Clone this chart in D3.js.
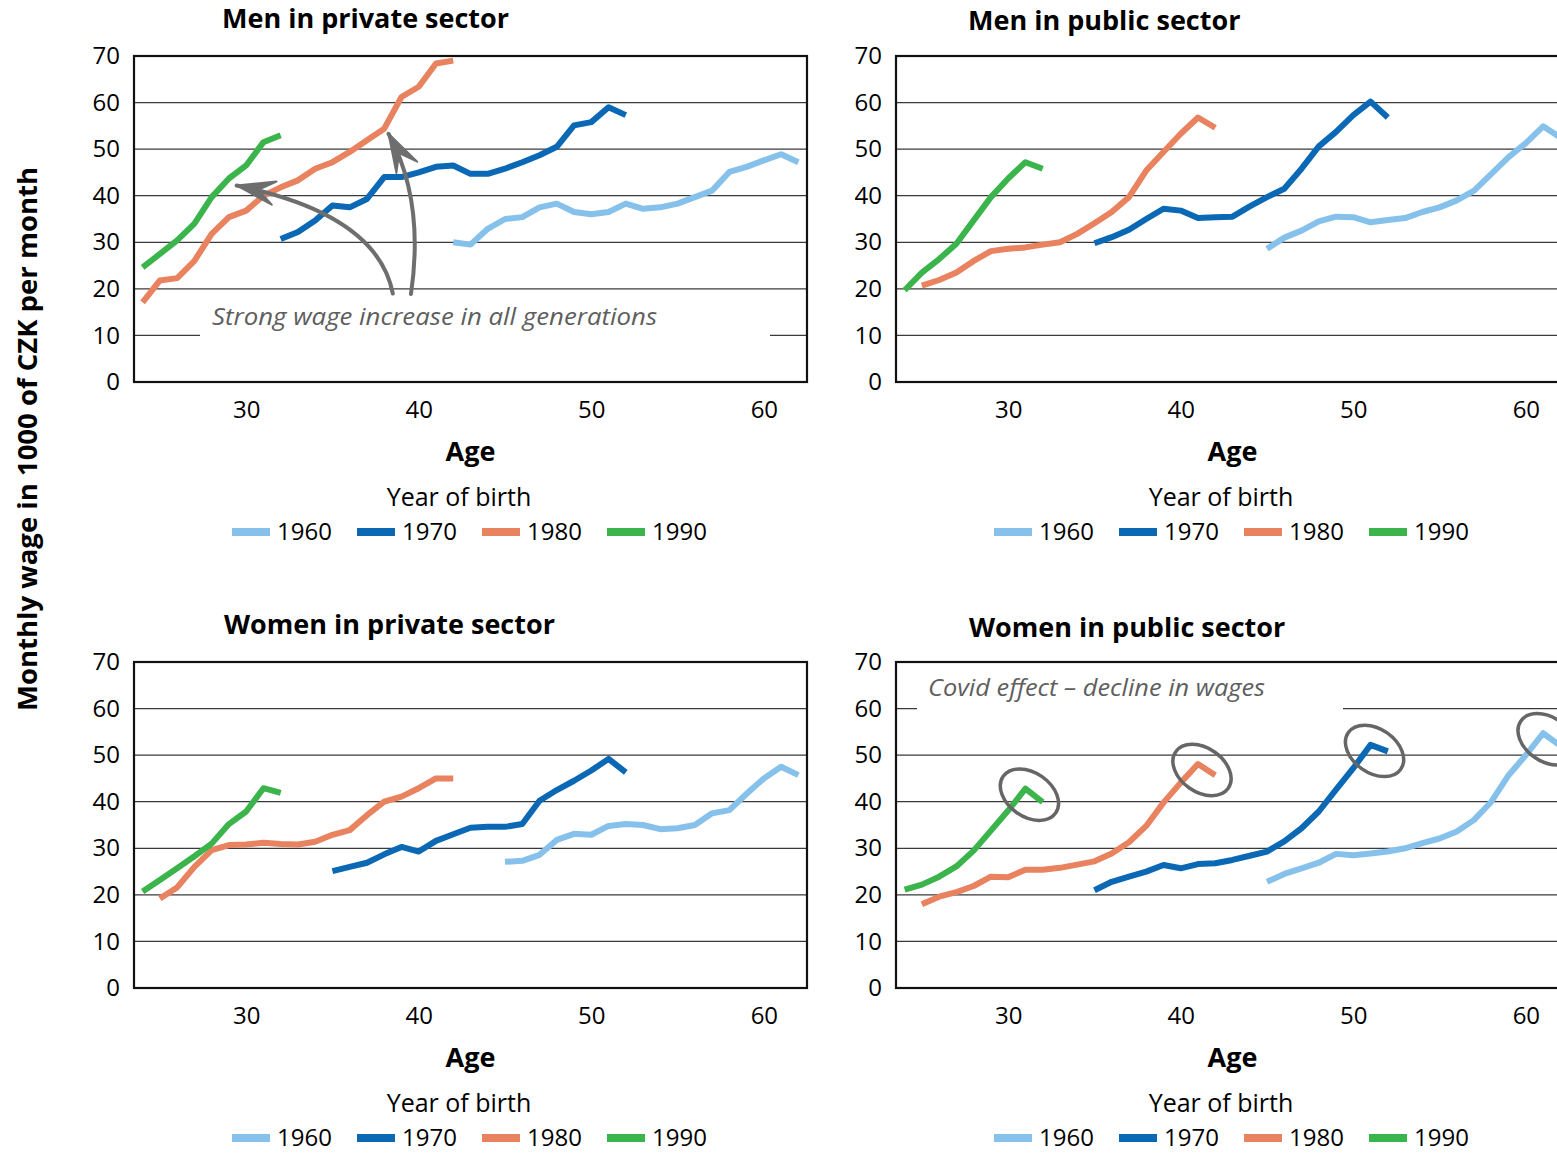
<!DOCTYPE html>
<html>
<head>
<meta charset="utf-8">
<script src="https://cdn.jsdelivr.net/npm/d3@7"></script>
<style>
  body { margin: 0; overflow: hidden; background: #fff; }
  svg { display: block; }
</style>
</head>
<body>
<script>
// ages on the x axis and their tick labels
var ageFirst = 24, ageLast = 62;
var ageTicks = [30, 40, 50, 60];
var wageTicks = [0, 10, 20, 30, 40, 50, 60, 70];
var cohorts = ["1960", "1970", "1980", "1990"];
var cohortColors = ["#85c1ea", "#0a68b4", "#e8825f", "#3cb44c"];

// monthly wage (thousand CZK), each series starts at the given age
var menPrivStart = { "1960": 42, "1970": 32, "1980": 24, "1990": 24 };
var menPriv1960 = [30, 29.5, 32.9, 35, 35.4, 37.5, 38.3, 36.5, 36, 36.5, 38.3, 37.2, 37.5, 38.3, 39.7, 41.1, 45.1, 46.2, 47.6, 48.9, 47.2];
var menPriv1970 = [30.7, 32.2, 34.7, 37.9, 37.5, 39.3, 44, 44, 45, 46.2, 46.5, 44.7, 44.7, 45.8, 47.2, 48.7, 50.5, 55.1, 55.8, 59, 57.3];
var menPriv1980 = [17.1, 21.8, 22.3, 26, 31.8, 35.4, 36.8, 40, 41.8, 43.3, 45.8, 47.2, 49.4, 51.9, 54.4, 61.2, 63.4, 68.4, 69];
var menPriv1990 = [24.6, 27.5, 30.4, 34, 39.7, 43.7, 46.5, 51.5, 53];

var menPubStart = { "1960": 45, "1970": 35, "1980": 25, "1990": 24 };
var menPub1960 = [28.6, 31, 32.5, 34.5, 35.5, 35.4, 34.3, 34.8, 35.2, 36.5, 37.5, 39, 41.1, 44.7, 48.3, 51.3, 54.9, 52.5];
var menPub1970 = [29.8, 31.1, 32.7, 35, 37.2, 36.8, 35.2, 35.4, 35.5, 37.7, 39.7, 41.5, 45.8, 50.6, 53.7, 57.3, 60.2, 56.8];
var menPub1980 = [20.7, 21.9, 23.5, 26, 28.1, 28.6, 28.9, 29.5, 30, 31.8, 34.1, 36.5, 39.7, 45.4, 49.4, 53.3, 56.8, 54.6];
var menPub1990 = [19.7, 23.5, 26.4, 29.7, 34.7, 39.7, 43.7, 47.2, 45.8];

var womenPrivStart = { "1960": 45, "1970": 35, "1980": 25, "1990": 24 };
var womenPriv1960 = [27.1, 27.3, 28.6, 31.8, 33.1, 32.9, 34.8, 35.2, 35, 34.1, 34.3, 35, 37.5, 38.2, 41.7, 45, 47.5, 45.7];
var womenPriv1970 = [25.1, 26, 26.9, 28.7, 30.3, 29.3, 31.6, 33, 34.4, 34.6, 34.6, 35.2, 40.2, 42.5, 44.5, 46.7, 49.2, 46.3];
var womenPriv1980 = [19.2, 21.6, 26, 29.6, 30.7, 30.8, 31.2, 30.9, 30.8, 31.4, 32.9, 33.9, 37.1, 40, 41.1, 42.9, 45, 45];
var womenPriv1990 = [20.7, 23.2, 25.7, 28.3, 31, 35.2, 37.9, 42.9, 41.9];

var womenPubStart = { "1960": 45, "1970": 35, "1980": 25, "1990": 24 };
var womenPub1960 = [22.8, 24.5, 25.7, 26.9, 28.8, 28.5, 28.9, 29.3, 30, 31.1, 32.1, 33.6, 36.1, 40, 45.7, 50, 54.7, 52];
var womenPub1970 = [21, 22.8, 23.9, 25, 26.4, 25.7, 26.6, 26.8, 27.5, 28.4, 29.3, 31.5, 34.3, 37.9, 42.6, 47.2, 52.2, 50.8];
var womenPub1980 = [18, 19.6, 20.6, 21.9, 23.9, 23.8, 25.4, 25.4, 25.8, 26.5, 27.2, 28.9, 31.3, 34.8, 39.8, 44.1, 48.1, 45.7];
var womenPub1990 = [21.1, 22.2, 23.9, 26.1, 29.5, 33.8, 38.1, 42.8, 39.9];

var panelTitles = ["Men in private sector", "Men in public sector", "Women in private sector", "Women in public sector"];

var W = 1557, H = 1153;
var plotW = 673, plotH = 326;
var font = "'Open Sans', sans-serif";

var panels = [
  { title: panelTitles[0], left: 134, top: 56, titleX: 88, titleY: -28, start: menPrivStart,
    series: [menPriv1960, menPriv1970, menPriv1980, menPriv1990] },
  { title: panelTitles[1], left: 896, top: 56, titleX: 72, titleY: -26, start: menPubStart,
    series: [menPub1960, menPub1970, menPub1980, menPub1990] },
  { title: panelTitles[2], left: 134, top: 662, titleX: 90, titleY: -28, start: womenPrivStart,
    series: [womenPriv1960, womenPriv1970, womenPriv1980, womenPriv1990] },
  { title: panelTitles[3], left: 896, top: 662, titleX: 73, titleY: -25, start: womenPubStart,
    series: [womenPub1960, womenPub1970, womenPub1980, womenPub1990] }
];

var svg = d3.select("body").append("svg")
  .attr("width", W).attr("height", H);

var x = d3.scaleLinear().domain([ageFirst - 0.5, ageLast + 0.5]).range([0, plotW]);
var y = d3.scaleLinear().domain([0, 70]).range([plotH, 0]);

var line = d3.line()
  .x(function(d) { return x(d.age); })
  .y(function(d) { return y(d.v); });

function toPoints(arr, start) {
  return arr.map(function(v, i) { return { age: start + i, v: v }; });
}

panels.forEach(function(p, pi) {
  var g = svg.append("g").attr("transform", "translate(" + p.left + "," + p.top + ")");

  // title
  g.append("text")
    .attr("x", p.titleX).attr("y", p.titleY)
    .attr("font-family", font).attr("font-weight", "bold").attr("font-size", 27)
    .text(p.title);

  // gridlines
  g.selectAll(".grid").data(wageTicks.slice(1, -1)).enter().append("line")
    .attr("x1", 0).attr("x2", plotW)
    .attr("y1", function(d) { return y(d); }).attr("y2", function(d) { return y(d); })
    .attr("stroke", "#3a3a3a").attr("stroke-width", 1.3);

  // y axis labels
  var yAxis = d3.axisLeft(y).tickValues(wageTicks).tickSize(0).tickPadding(14);
  var ya = g.append("g").call(yAxis);
  ya.select(".domain").remove();
  ya.selectAll("text").attr("font-family", font).attr("font-size", 24).attr("fill", "#000");

  // x axis labels
  var xAxis = d3.axisBottom(x).tickValues(ageTicks).tickSize(0).tickPadding(19);
  var xa = g.append("g").attr("transform", "translate(0," + plotH + ")").call(xAxis);
  xa.select(".domain").remove();
  xa.selectAll("text").attr("font-family", font).attr("font-size", 24).attr("fill", "#000");

  g.append("text")
    .attr("x", plotW / 2).attr("y", plotH + 79)
    .attr("text-anchor", "middle")
    .attr("font-family", font).attr("font-weight", "bold").attr("font-size", 27)
    .text("Age");

  // annotation boxes (white behind the handwritten notes)
  if (pi === 0) {
    g.append("rect").attr("x", 66).attr("y", y(17)).attr("width", 570).attr("height", y(8) - y(17))
      .attr("fill", "#fff");
    g.append("text")
      .attr("x", 78).attr("y", y(12.2))
      .attr("font-family", font).attr("font-style", "italic").attr("font-size", 24)
      .attr("fill", "#5e5e5e").attr("textLength", 445).attr("lengthAdjust", "spacingAndGlyphs")
      .text("Strong wage increase in all generations");
  }
  if (pi === 3) {
    g.append("rect").attr("x", 21).attr("y", y(68)).attr("width", 426).attr("height", y(59) - y(68))
      .attr("fill", "#fff");
    g.append("text")
      .attr("x", 32).attr("y", y(62.8))
      .attr("font-family", font).attr("font-style", "italic").attr("font-size", 24)
      .attr("fill", "#5e5e5e").attr("textLength", 337).attr("lengthAdjust", "spacingAndGlyphs")
      .text("Covid effect \u2013 decline in wages");
  }

  // series lines
  p.series.forEach(function(arr, si) {
    g.append("path")
      .datum(toPoints(arr, p.start[cohorts[si]]))
      .attr("d", line)
      .attr("fill", "none")
      .attr("stroke", cohortColors[si])
      .attr("stroke-width", 6)
      .attr("stroke-linejoin", "round");
  });

  // plot border
  g.append("rect").attr("x", 0).attr("y", 0).attr("width", plotW).attr("height", plotH)
    .attr("fill", "none").attr("stroke", "#111").attr("stroke-width", 2.2);

  // legend
  g.append("text")
    .attr("x", 325).attr("y", plotH + 124)
    .attr("text-anchor", "middle")
    .attr("font-family", font).attr("font-size", 25)
    .text("Year of birth");

  var leg = g.append("g").attr("transform", "translate(98," + (plotH + 150) + ")");
  cohorts.forEach(function(c, i) {
    var li = leg.append("g").attr("transform", "translate(" + (i * 125) + ",0)");
    li.append("rect").attr("x", 0).attr("y", -4).attr("width", 38).attr("height", 8)
      .attr("fill", cohortColors[i]);
    li.append("text").attr("x", 45).attr("y", 0).attr("dy", "0.35em")
      .attr("font-family", font).attr("font-size", 24)
      .text(c);
  });

  // hand-drawn arrows in the first panel
  if (pi === 0) {
    var arrows = [
      { from: [38.5, 19], ctrl: [37.6, 36], to: [29.45, 42.2] },
      { from: [39.55, 18.9], ctrl: [40.35, 39], to: [38.25, 53.3] }
    ];
    arrows.forEach(function(a) {
      var p0 = [x(a.from[0]), y(a.from[1])], c = [x(a.ctrl[0]), y(a.ctrl[1])], t = [x(a.to[0]), y(a.to[1])];
      g.append("path")
        .attr("d", "M" + p0 + "Q" + c + " " + t)
        .attr("fill", "none").attr("stroke", "#6e6e6e").attr("stroke-width", 4)
        .attr("stroke-linecap", "round");
      var ang = Math.atan2(c[1] - t[1], c[0] - t[0]);
      var len = 40, spread = 0.3;
      var a1 = [t[0] + len * Math.cos(ang - spread), t[1] + len * Math.sin(ang - spread)];
      var a2 = [t[0] + len * Math.cos(ang + spread), t[1] + len * Math.sin(ang + spread)];
      var n = [t[0] + 22 * Math.cos(ang), t[1] + 22 * Math.sin(ang)];
      g.append("path")
        .attr("d", "M" + t + "L" + a1 + "L" + n + "L" + a2 + "Z")
        .attr("fill", "#6e6e6e").attr("stroke", "#6e6e6e").attr("stroke-width", 2)
        .attr("stroke-linejoin", "round");
    });
  }

  // circles around the last peaks in the last panel
  if (pi === 3) {
    p.series.forEach(function(arr, si) {
      var st = p.start[cohorts[si]];
      var peakAge = st + arr.length - 2;
      var cx = x(peakAge) + 4, cy = y(arr[arr.length - 2]) + 6;
      g.append("ellipse")
        .attr("cx", 0).attr("cy", 0).attr("rx", 32).attr("ry", 22)
        .attr("transform", "translate(" + cx + "," + cy + ") rotate(35)")
        .attr("fill", "none").attr("stroke", "#666").attr("stroke-width", 3.5);
    });
  }
});

// shared y axis title
svg.append("text")
  .attr("transform", "translate(37,439) rotate(-90)")
  .attr("text-anchor", "middle")
  .attr("font-family", font).attr("font-weight", "bold").attr("font-size", 27.5)
  .text("Monthly wage in 1000 of CZK per month");
</script>
</body>
</html>
